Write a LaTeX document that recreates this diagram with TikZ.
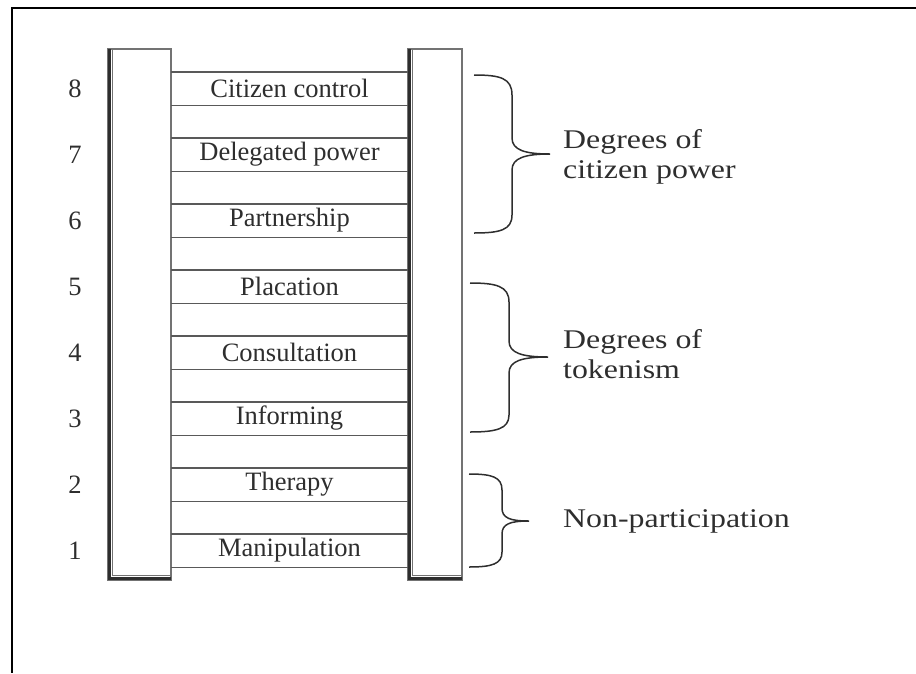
\documentclass[tikz,border=0pt]{standalone}
\usepackage{fontspec}
\usepackage{graphicx}
\setmainfont{Liberation Serif}
\definecolor{ink}{gray}{0.18}
\definecolor{railgray}{gray}{0.45}
\definecolor{rung}{gray}{0.35}
\tikzset{
  frame/.style={line width=2pt, black},
  railout/.style={draw=railgray, line width=1.3pt},
  raildark/.style={draw=ink, line width=2.6pt},
  railin/.style={draw=railgray, line width=1.2pt},
  rungline/.style={draw=rung, line width=1.2pt},
  steplabel/.style={font=\fontsize{26.5}{28}\selectfont, text=ink, inner sep=0pt, anchor=center},
  numlabel/.style={font=\fontsize{26.5}{28}\selectfont, text=ink, inner sep=0pt, anchor=center},
  bracetext/.style={font=\fontsize{27}{30}\selectfont, text=ink, inner sep=0pt, anchor=west, align=left},
  bracepath/.style={draw=ink, line width=1.5pt},
}
\newcommand{\wide}[1]{\scalebox{1.18}[1]{#1}}
\begin{document}
\begin{tikzpicture}[x=1pt,y=-1pt]
\useasboundingbox (0,0) rectangle (916,673);
% frame (top and left edges)
\draw[frame] (916,8) -- (12,8) -- (12,673);
% rails
\foreach \xl/\xr/\nm in {108/171/lrail, 408/462/rrail}{
  \draw[railout] (\xl,49) rectangle (\xr,580);
  \draw[raildark] (\xl+1.3,49) -- (\xl+1.3,578.7) -- (\xr,578.7);
  \draw[railin] (\xl+4.8,49.6) -- (\xl+4.8,575.5) -- (\xr-0.6,575.5);
}
% rungs and labels
\foreach \i/\txt in {8/Citizen control,7/Delegated power,6/Partnership,5/Placation,4/Consultation,3/Informing,2/Therapy,1/Manipulation}{
  \pgfmathsetmacro{\yt}{72+(8-\i)*66}
  \pgfmathsetmacro{\yb}{\yt+33.5}
  \pgfmathsetmacro{\yc}{\yt+16.5}
  \draw[rungline] (171,\yt) -- (408,\yt);
  \draw[rungline] (171,\yb) -- (408,\yb);
  \node[steplabel] (s\i) at (289.5,\yc) {\txt};
  \node[numlabel] (n\i) at (75,\yc) {\i};
}
% braces
\draw[bracepath] (474,75) .. controls (500,75) and (512,78) .. (512,95)
  -- (512,138) .. controls (512,150) and (525,154) .. (550,154)
  .. controls (525,154) and (512,158) .. (512,170)
  -- (512,215) .. controls (512,230) and (500,233) .. (474,233);
\draw[bracepath] (470,283) .. controls (496,283) and (509,286) .. (509,302)
  -- (509,341) .. controls (509,353) and (522,357) .. (548,357)
  .. controls (522,357) and (509,361) .. (509,373)
  -- (509,415) .. controls (509,429) and (496,432) .. (470,432);
\draw[bracepath] (469,474) .. controls (492,474) and (502,477) .. (502,490)
  -- (502,508) .. controls (502,518) and (510,521) .. (529,521)
  .. controls (510,521) and (502,524) .. (502,534)
  -- (502,552) .. controls (502,564) and (492,567) .. (469,567);
% brace texts
\node[bracetext] (g1) at (563,157) {\wide{Degrees of}\\\wide{citizen power}};
\node[bracetext] (g2) at (563,354) {\wide{Degrees of}\\\wide{tokenism}};
\node[bracetext] (g3) at (563,521) {\wide{Non-participation}};
\end{tikzpicture}
\end{document}
